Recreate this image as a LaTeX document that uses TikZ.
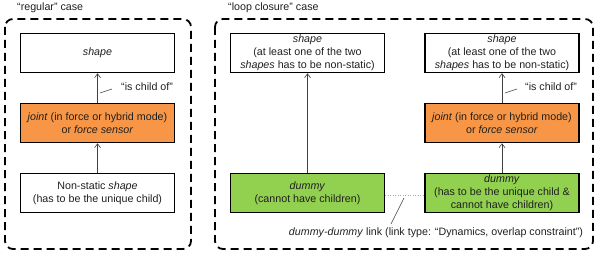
\documentclass[tikz,border=0pt]{standalone}
\usepackage{fontspec}
\setmainfont{Liberation Sans}
\usetikzlibrary{arrows.meta}
\definecolor{boxorange}{HTML}{F79646}
\definecolor{boxgreen}{HTML}{92D050}
\definecolor{linkblue}{HTML}{7FB2E0}
\definecolor{arrgray}{HTML}{404040}
\definecolor{txt}{HTML}{202020}
\begin{document}
\begin{tikzpicture}[x=1pt,y=-1pt,
  font=\fontsize{10.7}{13}\selectfont, text=txt,
  box/.style={draw=black, line width=1.5pt, minimum width=154pt, minimum height=39pt, align=center, inner sep=0pt, fill=white},
  orangebox/.style={box, fill=boxorange},
  greenbox/.style={box, fill=boxgreen},
  frame/.style={draw=black, line width=1.8pt, dash pattern=on 8pt off 5pt, rounded corners=8pt},
  arr/.style={draw=arrgray, line width=0.6pt, -{Straight Barb[length=4pt,width=6pt]}},
  leader/.style={draw=arrgray, line width=0.6pt},
  lbl/.style={inner sep=0pt, anchor=west}]
\useasboundingbox (0,0) rectangle (600,254);
% frames
\draw[frame] (5,19) rectangle (191,249);
\draw[frame] (215,19) rectangle (593,249);
\node[lbl] (t1) at (17,8) {“regular” case};
\node[lbl] (t2) at (228,8) {“loop closure” case};
% left column
\node[box] (s1) at (97.5,53) {\textit{shape}};
\node[orangebox] (j1) at (97.5,123) {\textit{joint} (in force or hybrid mode)\\or \textit{force sensor}};
\node[box] (n1) at (97.5,193) {Non-static \textit{shape}\\(has to be the unique child)};
\draw[arr] (j1.north) -- (s1.south);
\draw[arr] (n1.north) -- (j1.south);
\node[lbl] (c1) at (121,87) {“is child of”};
\coordinate (c1a) at (100,93);
\draw[leader] (c1a) -- (112,89);
% middle column
\node[box] (s2) at (307.5,53) {\textit{shape}\\(at least one of the two\\\textit{shapes} has to be non-static)};
\node[greenbox] (d2) at (307.5,193) {\textit{dummy}\\(cannot have children)};
\draw[arr] (d2.north) -- (s2.south);
% right column
\node[box] (s3) at (502,53) {\textit{shape}\\(at least one of the two\\\textit{shapes} has to be non-static)};
\node[orangebox] (j3) at (502,123) {\textit{joint} (in force or hybrid mode)\\or \textit{force sensor}};
\node[greenbox] (d3) at (502,193) {\textit{dummy}\\(has to be the unique child \&\\cannot have children)};
\draw[arr] (j3.north) -- (s3.south);
\draw[arr] (d3.north) -- (j3.south);
\node[lbl] (c3) at (525,87) {“is child of”};
\coordinate (c3a) at (505,93);
\draw[leader] (c3a) -- (517,89);
% dummy-dummy link
\draw[draw=linkblue, line width=0.7pt, dash pattern=on 1pt off 1.5pt] ([yshift=-2pt]d2.east) -- ([yshift=-2pt]d3.west);
\node[inner sep=0pt] (lk) at (436,233) {\textit{dummy-dummy} link (link type: “Dynamics, overlap constraint”)};
\coordinate (lka) at (404,198);
\draw[leader] (lka) -- (391,224);
\end{tikzpicture}
\end{document}
